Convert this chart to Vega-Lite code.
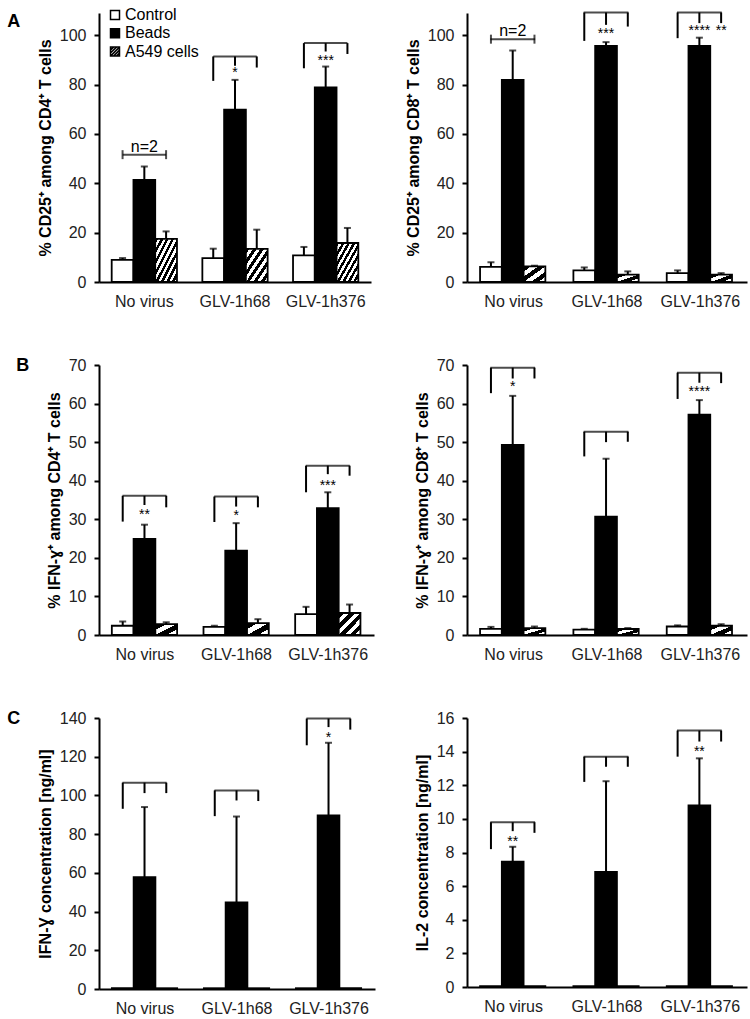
{
  "$schema": "https://vega.github.io/schema/vega-lite/v6.json",
  "padding": {"left": 7, "top": 7, "right": 3, "bottom": 5},
  "background": "white",
  "bounds": "flush",
  "align": "each",
  "columns": 2,
  "spacing": {"row": 83, "column": 92},
  "config": {
    "font": "Liberation Sans",
    "view": {"stroke": null},
    "axis": {"grid": false, "domainColor": "black", "domainWidth": 2, "tickColor": "black", "tickWidth": 2, "tickSize": 5, "labelFont": "Liberation Sans", "labelFontSize": 16, "labelColor": "#222", "labelPadding": 8, "labelOverlap": false, "labelBound": false, "titleFont": "Liberation Sans", "titleFontSize": 16, "titleFontWeight": "bold", "titleColor": "black", "titlePadding": 6},
    "axisX": {"ticks": false, "labelAngle": 0, "labelPadding": 11},
    "text": {"font": "Liberation Sans", "color": "black"},
    "legend": {"orient": "none", "title": null, "symbolSize": 81, "symbolStrokeColor": "black", "symbolStrokeWidth": 1.5, "symbolOpacity": 1, "labelFont": "Liberation Sans", "labelFontSize": 16, "labelColor": "black", "rowPadding": 2.3, "labelOffset": 2, "padding": 0}
  },
  "datasets": {
    "AL_bars": [
      {"cat": "No virus", "grp": "Control", "v": 9.0, "hi": 9.7},
      {"cat": "No virus", "grp": "Beads", "v": 41.4, "hi": 46.8},
      {"cat": "No virus", "grp": "A549 cells", "v": 17.5, "hi": 20.5},
      {"cat": "GLV-1h68", "grp": "Control", "v": 9.7, "hi": 13.5},
      {"cat": "GLV-1h68", "grp": "Beads", "v": 69.8, "hi": 81.9},
      {"cat": "GLV-1h68", "grp": "A549 cells", "v": 13.4, "hi": 21.2},
      {"cat": "GLV-1h376", "grp": "Control", "v": 10.8, "hi": 14.2},
      {"cat": "GLV-1h376", "grp": "Beads", "v": 78.9, "hi": 87.3},
      {"cat": "GLV-1h376", "grp": "A549 cells", "v": 15.8, "hi": 21.9}
    ],
    "AL_legs": [
      {"cat": "GLV-1h68", "leg": "Control", "top": 91.4, "bot": 81.5},
      {"cat": "GLV-1h68", "leg": "Beads", "top": 91.4, "bot": 87.6},
      {"cat": "GLV-1h68", "leg": "A549 cells", "top": 91.4, "bot": 86.9},
      {"cat": "GLV-1h376", "leg": "Control", "top": 96.8, "bot": 86.6},
      {"cat": "GLV-1h376", "leg": "Beads", "top": 96.8, "bot": 93.4},
      {"cat": "GLV-1h376", "leg": "A549 cells", "top": 96.8, "bot": 92.4}
    ],
    "AL_notes": [
      {"cat": "No virus", "pos": "Beads", "y": 54.9, "txt": "n=2"},
      {"cat": "GLV-1h68", "pos": "Beads", "y": 84.8, "txt": "*"},
      {"cat": "GLV-1h376", "pos": "Beads", "y": 89.5, "txt": "***"}
    ],
    "AL_n2": [
      {"cat": "No virus", "leg": "Control", "y": 51.6},
      {"cat": "No virus", "leg": "Beads", "y": 51.6},
      {"cat": "No virus", "leg": "A549 cells", "y": 51.6}
    ],
    "AR_bars": [
      {"cat": "No virus", "grp": "Control", "v": 6.1, "hi": 8.0},
      {"cat": "No virus", "grp": "Beads", "v": 81.9, "hi": 93.8},
      {"cat": "No virus", "grp": "A549 cells", "v": 6.3, "hi": 6.6},
      {"cat": "GLV-1h68", "grp": "Control", "v": 4.7, "hi": 5.9},
      {"cat": "GLV-1h68", "grp": "Beads", "v": 95.7, "hi": 97.2},
      {"cat": "GLV-1h68", "grp": "A549 cells", "v": 3.0, "hi": 4.3},
      {"cat": "GLV-1h376", "grp": "Control", "v": 3.6, "hi": 4.7},
      {"cat": "GLV-1h376", "grp": "Beads", "v": 95.7, "hi": 99.0},
      {"cat": "GLV-1h376", "grp": "A549 cells", "v": 3.0, "hi": 3.6}
    ],
    "AR_legs": [
      {"cat": "GLV-1h68", "leg": "Control", "top": 109.2, "bot": 97.7},
      {"cat": "GLV-1h68", "leg": "Beads", "top": 109.2, "bot": 104.2},
      {"cat": "GLV-1h68", "leg": "A549 cells", "top": 109.2, "bot": 103.5},
      {"cat": "GLV-1h376", "leg": "Control", "top": 109.2, "bot": 98.8},
      {"cat": "GLV-1h376", "leg": "Beads", "top": 109.2, "bot": 104.9},
      {"cat": "GLV-1h376", "leg": "A549 cells", "top": 109.2, "bot": 104.9}
    ],
    "AR_notes": [
      {"cat": "No virus", "pos": "Beads", "y": 101.9, "txt": "n=2"},
      {"cat": "GLV-1h68", "pos": "Beads", "y": 100.6, "txt": "***"},
      {"cat": "GLV-1h376", "pos": "Beads", "y": 101.6, "txt": "****"},
      {"cat": "GLV-1h376", "pos": "A549 cells", "y": 101.6, "txt": "**"}
    ],
    "AR_n2": [
      {"cat": "No virus", "leg": "Control", "y": 98.4},
      {"cat": "No virus", "leg": "Beads", "y": 98.4},
      {"cat": "No virus", "leg": "A549 cells", "y": 98.4}
    ],
    "BL_bars": [
      {"cat": "No virus", "grp": "Control", "v": 2.4, "hi": 3.5},
      {"cat": "No virus", "grp": "Beads", "v": 24.9, "hi": 28.6},
      {"cat": "No virus", "grp": "A549 cells", "v": 2.8, "hi": 3.3},
      {"cat": "GLV-1h68", "grp": "Control", "v": 2.1, "hi": 2.4},
      {"cat": "GLV-1h68", "grp": "Beads", "v": 21.9, "hi": 29.0},
      {"cat": "GLV-1h68", "grp": "A549 cells", "v": 3.1, "hi": 4.1},
      {"cat": "GLV-1h376", "grp": "Control", "v": 5.4, "hi": 7.3},
      {"cat": "GLV-1h376", "grp": "Beads", "v": 32.9, "hi": 37.0},
      {"cat": "GLV-1h376", "grp": "A549 cells", "v": 5.7, "hi": 7.9}
    ],
    "BL_legs": [
      {"cat": "No virus", "leg": "Control", "top": 36.1, "bot": 29.4},
      {"cat": "No virus", "leg": "Beads", "top": 36.1, "bot": 33.7},
      {"cat": "No virus", "leg": "A549 cells", "top": 36.1, "bot": 33.1},
      {"cat": "GLV-1h68", "leg": "Control", "top": 35.9, "bot": 29.3},
      {"cat": "GLV-1h68", "leg": "Beads", "top": 35.9, "bot": 33.3},
      {"cat": "GLV-1h68", "leg": "A549 cells", "top": 35.9, "bot": 33.1},
      {"cat": "GLV-1h376", "leg": "Control", "top": 43.9, "bot": 37.0},
      {"cat": "GLV-1h376", "leg": "Beads", "top": 43.9, "bot": 41.7},
      {"cat": "GLV-1h376", "leg": "A549 cells", "top": 43.9, "bot": 41.3}
    ],
    "BL_notes": [
      {"cat": "No virus", "pos": "Beads", "y": 31.0, "txt": "**"},
      {"cat": "GLV-1h68", "pos": "Beads", "y": 30.8, "txt": "*"},
      {"cat": "GLV-1h376", "pos": "Beads", "y": 38.6, "txt": "***"}
    ],
    "BR_bars": [
      {"cat": "No virus", "grp": "Control", "v": 1.6, "hi": 2.1},
      {"cat": "No virus", "grp": "Beads", "v": 49.3, "hi": 62.0},
      {"cat": "No virus", "grp": "A549 cells", "v": 1.8, "hi": 2.2},
      {"cat": "GLV-1h68", "grp": "Control", "v": 1.4, "hi": 1.6},
      {"cat": "GLV-1h68", "grp": "Beads", "v": 30.7, "hi": 45.7},
      {"cat": "GLV-1h68", "grp": "A549 cells", "v": 1.55, "hi": 1.8},
      {"cat": "GLV-1h376", "grp": "Control", "v": 2.2, "hi": 2.5},
      {"cat": "GLV-1h376", "grp": "Beads", "v": 57.1, "hi": 60.9},
      {"cat": "GLV-1h376", "grp": "A549 cells", "v": 2.4, "hi": 2.8}
    ],
    "BR_legs": [
      {"cat": "No virus", "leg": "Control", "top": 69.3, "bot": 62.7},
      {"cat": "No virus", "leg": "Beads", "top": 69.3, "bot": 66.5},
      {"cat": "No virus", "leg": "A549 cells", "top": 69.3, "bot": 66.5},
      {"cat": "GLV-1h68", "leg": "Control", "top": 52.7, "bot": 46.3},
      {"cat": "GLV-1h68", "leg": "Beads", "top": 52.7, "bot": 50.0},
      {"cat": "GLV-1h68", "leg": "A549 cells", "top": 52.7, "bot": 50.1},
      {"cat": "GLV-1h376", "leg": "Control", "top": 68.0, "bot": 61.2},
      {"cat": "GLV-1h376", "leg": "Beads", "top": 68.0, "bot": 65.4},
      {"cat": "GLV-1h376", "leg": "A549 cells", "top": 68.0, "bot": 65.3}
    ],
    "BR_notes": [
      {"cat": "No virus", "pos": "Beads", "y": 64.2, "txt": "*"},
      {"cat": "GLV-1h376", "pos": "Beads", "y": 62.9, "txt": "****"}
    ],
    "CL_bars": [
      {"cat": "No virus", "grp": "Control", "v": 0.4, "hi": 0.4},
      {"cat": "No virus", "grp": "Beads", "v": 57.8, "hi": 94.0},
      {"cat": "No virus", "grp": "A549 cells", "v": 0.4, "hi": 0.4},
      {"cat": "GLV-1h68", "grp": "Control", "v": 0.4, "hi": 0.4},
      {"cat": "GLV-1h68", "grp": "Beads", "v": 44.8, "hi": 89.1},
      {"cat": "GLV-1h68", "grp": "A549 cells", "v": 0.4, "hi": 0.4},
      {"cat": "GLV-1h376", "grp": "Control", "v": 0.4, "hi": 0.4},
      {"cat": "GLV-1h376", "grp": "Beads", "v": 89.7, "hi": 127.2},
      {"cat": "GLV-1h376", "grp": "A549 cells", "v": 0.4, "hi": 0.4}
    ],
    "CL_legs": [
      {"cat": "No virus", "leg": "Control", "top": 106.6, "bot": 93.1},
      {"cat": "No virus", "leg": "Beads", "top": 106.6, "bot": 101.2},
      {"cat": "No virus", "leg": "A549 cells", "top": 106.6, "bot": 101.2},
      {"cat": "GLV-1h68", "leg": "Control", "top": 102.6, "bot": 89.3},
      {"cat": "GLV-1h68", "leg": "Beads", "top": 102.6, "bot": 97.4},
      {"cat": "GLV-1h68", "leg": "A549 cells", "top": 102.6, "bot": 97.1},
      {"cat": "GLV-1h376", "leg": "Control", "top": 139.7, "bot": 125.9},
      {"cat": "GLV-1h376", "leg": "Beads", "top": 139.7, "bot": 135.3},
      {"cat": "GLV-1h376", "leg": "A549 cells", "top": 139.7, "bot": 134.0}
    ],
    "CL_notes": [
      {"cat": "GLV-1h376", "pos": "Beads", "y": 129.5, "txt": "*"}
    ],
    "CR_bars": [
      {"cat": "No virus", "grp": "Control", "v": 0.05, "hi": 0.05},
      {"cat": "No virus", "grp": "Beads", "v": 7.45, "hi": 8.34},
      {"cat": "No virus", "grp": "A549 cells", "v": 0.05, "hi": 0.05},
      {"cat": "GLV-1h68", "grp": "Control", "v": 0.05, "hi": 0.05},
      {"cat": "GLV-1h68", "grp": "Beads", "v": 6.85, "hi": 12.24},
      {"cat": "GLV-1h68", "grp": "A549 cells", "v": 0.05, "hi": 0.05},
      {"cat": "GLV-1h376", "grp": "Control", "v": 0.05, "hi": 0.05},
      {"cat": "GLV-1h376", "grp": "Beads", "v": 10.8, "hi": 13.6},
      {"cat": "GLV-1h376", "grp": "A549 cells", "v": 0.05, "hi": 0.05}
    ],
    "CR_legs": [
      {"cat": "No virus", "leg": "Control", "top": 9.8, "bot": 8.2},
      {"cat": "No virus", "leg": "Beads", "top": 9.8, "bot": 9.27},
      {"cat": "No virus", "leg": "A549 cells", "top": 9.8, "bot": 9.17},
      {"cat": "GLV-1h68", "leg": "Control", "top": 13.7, "bot": 12.2},
      {"cat": "GLV-1h68", "leg": "Beads", "top": 13.7, "bot": 13.1},
      {"cat": "GLV-1h68", "leg": "A549 cells", "top": 13.7, "bot": 13.1},
      {"cat": "GLV-1h376", "leg": "Control", "top": 15.25, "bot": 13.7},
      {"cat": "GLV-1h376", "leg": "Beads", "top": 15.25, "bot": 14.6},
      {"cat": "GLV-1h376", "leg": "A549 cells", "top": 15.25, "bot": 14.6}
    ],
    "CR_notes": [
      {"cat": "No virus", "pos": "Beads", "y": 8.6, "txt": "**"},
      {"cat": "GLV-1h376", "pos": "Beads", "y": 14.0, "txt": "**"}
    ]
  },
  "concat": [
    {
      "width": 272, "height": 269,
      "title": {"text": "A", "orient": "left", "anchor": "end", "angle": 0, "align": "right", "baseline": "top", "fontSize": 18, "fontWeight": "bold", "font": "Liberation Sans", "color": "black", "offset": 4},
      "layer": [
        {"data": {"name": "AL_bars"}, "mark": {"type": "bar", "stroke": "black", "strokeWidth": 1.8},
         "encoding": {
           "x": {"field": "cat", "type": "nominal", "scale": {"domain": ["No virus", "GLV-1h68", "GLV-1h376"], "paddingInner": 0.28, "paddingOuter": 0.14}, "axis": {"title": null}},
           "xOffset": {"field": "grp", "type": "nominal", "scale": {"domain": ["Control", "Beads", "A549 cells"], "paddingInner": 0, "paddingOuter": 0}},
           "y": {"field": "v", "type": "quantitative", "scale": {"domain": [0, 109], "nice": false}, "axis": {"title": "% CD25⁺ among CD4⁺ T cells", "values": [0, 20, 40, 60, 80, 100], "tickCount": 30, "format": "d"}},
           "fill": {
             "condition": [
               {"test": "datum.grp === 'Control'", "value": "white"},
               {"test": "datum.grp === 'Beads'", "value": "black"},
               {"test": "datum.v > 15", "value": {"gradient": "linear", "x1": 0, "y1": 0, "x2": 1, "y2": 1, "stops": [{"offset": 0, "color": "black"}, {"offset": 0.0625, "color": "black"}, {"offset": 0.0625, "color": "white"}, {"offset": 0.125, "color": "white"}, {"offset": 0.125, "color": "black"}, {"offset": 0.1875, "color": "black"}, {"offset": 0.1875, "color": "white"}, {"offset": 0.25, "color": "white"}, {"offset": 0.25, "color": "black"}, {"offset": 0.3125, "color": "black"}, {"offset": 0.3125, "color": "white"}, {"offset": 0.375, "color": "white"}, {"offset": 0.375, "color": "black"}, {"offset": 0.4375, "color": "black"}, {"offset": 0.4375, "color": "white"}, {"offset": 0.5, "color": "white"}, {"offset": 0.5, "color": "black"}, {"offset": 0.5625, "color": "black"}, {"offset": 0.5625, "color": "white"}, {"offset": 0.625, "color": "white"}, {"offset": 0.625, "color": "black"}, {"offset": 0.6875, "color": "black"}, {"offset": 0.6875, "color": "white"}, {"offset": 0.75, "color": "white"}, {"offset": 0.75, "color": "black"}, {"offset": 0.8125, "color": "black"}, {"offset": 0.8125, "color": "white"}, {"offset": 0.875, "color": "white"}, {"offset": 0.875, "color": "black"}, {"offset": 0.9375, "color": "black"}, {"offset": 0.9375, "color": "white"}, {"offset": 1, "color": "white"}]}}
             ],
             "value": {"gradient": "linear", "x1": 0, "y1": 0, "x2": 1, "y2": 1, "stops": [{"offset": 0, "color": "black"}, {"offset": 0.0833, "color": "black"}, {"offset": 0.0833, "color": "white"}, {"offset": 0.1667, "color": "white"}, {"offset": 0.1667, "color": "black"}, {"offset": 0.25, "color": "black"}, {"offset": 0.25, "color": "white"}, {"offset": 0.3333, "color": "white"}, {"offset": 0.3333, "color": "black"}, {"offset": 0.4167, "color": "black"}, {"offset": 0.4167, "color": "white"}, {"offset": 0.5, "color": "white"}, {"offset": 0.5, "color": "black"}, {"offset": 0.5833, "color": "black"}, {"offset": 0.5833, "color": "white"}, {"offset": 0.6667, "color": "white"}, {"offset": 0.6667, "color": "black"}, {"offset": 0.75, "color": "black"}, {"offset": 0.75, "color": "white"}, {"offset": 0.8333, "color": "white"}, {"offset": 0.8333, "color": "black"}, {"offset": 0.9167, "color": "black"}, {"offset": 0.9167, "color": "white"}, {"offset": 1, "color": "white"}]}
           }
         }},
        {"data": {"name": "AL_bars"}, "mark": {"type": "point", "filled": true, "opacity": 0},
         "encoding": {"x": {"field": "cat", "type": "nominal"}, "y": {"field": "v", "type": "quantitative"},
           "fill": {"field": "grp", "type": "nominal", "scale": {"domain": ["Control", "Beads", "A549 cells"], "range": ["white", "black", "white"]}, "legend": {"legendX": 8, "legendY": -6}},
           "stroke": {"field": "grp", "type": "nominal", "scale": {"domain": ["Control", "Beads", "A549 cells"], "range": ["black", "black", "black"]}, "legend": {"legendX": 8, "legendY": -6}},
           "shape": {"field": "grp", "type": "nominal", "scale": {"domain": ["Control", "Beads", "A549 cells"], "range": ["square", "square", "M-1,-1H1V1H-1Z M-1,-0.33L-0.33,-1 M-1,0.33L0.33,-1 M-1,1L1,-1 M-0.33,1L1,-0.33 M0.33,1L1,0.33"]}, "legend": {"legendX": 8, "legendY": -6}}}},
        {"data": {"name": "AL_bars"}, "transform": [{"filter": "datum.hi > datum.v"}], "mark": {"type": "rule", "strokeWidth": 2, "color": "black"},
         "encoding": {"x": {"field": "cat", "type": "nominal"}, "xOffset": {"field": "grp", "type": "nominal"}, "y": {"field": "v", "type": "quantitative"}, "y2": {"field": "hi"}}},
        {"data": {"name": "AL_bars"}, "transform": [{"filter": "datum.hi > datum.v"}], "mark": {"type": "tick", "size": 7, "thickness": 2, "color": "black"},
         "encoding": {"x": {"field": "cat", "type": "nominal"}, "xOffset": {"field": "grp", "type": "nominal"}, "y": {"field": "hi", "type": "quantitative"}}},
        {"data": {"name": "AL_legs"}, "mark": {"type": "rule", "strokeWidth": 2, "color": "black"},
         "encoding": {"x": {"field": "cat", "type": "nominal"}, "xOffset": {"field": "leg", "type": "nominal"}, "y": {"field": "top", "type": "quantitative"}, "y2": {"field": "bot"}}},
        {"data": {"name": "AL_legs"}, "transform": [{"filter": "datum.leg === 'Beads'"}], "mark": {"type": "tick", "size": 43.5, "thickness": 2, "color": "black"},
         "encoding": {"x": {"field": "cat", "type": "nominal"}, "xOffset": {"field": "leg", "type": "nominal"}, "y": {"field": "top", "type": "quantitative"}}},
        {"data": {"name": "AL_n2"}, "transform": [{"filter": "datum.leg === 'Beads'"}], "mark": {"type": "tick", "size": 43.5, "thickness": 2, "color": "black"},
         "encoding": {"x": {"field": "cat", "type": "nominal"}, "xOffset": {"field": "leg", "type": "nominal"}, "y": {"field": "y", "type": "quantitative"}}},
        {"data": {"name": "AL_n2"}, "transform": [{"filter": "datum.leg !== 'Beads'"}], "mark": {"type": "tick", "orient": "vertical", "size": 9, "thickness": 2, "color": "black"},
         "encoding": {"x": {"field": "cat", "type": "nominal"}, "xOffset": {"field": "leg", "type": "nominal"}, "y": {"field": "y", "type": "quantitative"}}},
        {"data": {"name": "AL_notes"}, "mark": {"type": "text", "baseline": "middle", "font": "Liberation Sans"},
         "encoding": {"x": {"field": "cat", "type": "nominal"}, "xOffset": {"field": "pos", "type": "nominal"}, "y": {"field": "y", "type": "quantitative"}, "text": {"field": "txt"}, "size": {"condition": {"test": "datum.txt === 'n=2'", "value": 16}, "value": 14}}}
      ]
    },
    {
      "width": 280, "height": 269,
      "layer": [
        {"data": {"name": "AR_bars"}, "mark": {"type": "bar", "stroke": "black", "strokeWidth": 1.8},
         "encoding": {
           "x": {"field": "cat", "type": "nominal", "scale": {"domain": ["No virus", "GLV-1h68", "GLV-1h376"], "paddingInner": 0.28, "paddingOuter": 0.14}, "axis": {"title": null}},
           "xOffset": {"field": "grp", "type": "nominal", "scale": {"domain": ["Control", "Beads", "A549 cells"], "paddingInner": 0, "paddingOuter": 0}},
           "y": {"field": "v", "type": "quantitative", "scale": {"domain": [0, 109], "nice": false}, "axis": {"title": "% CD25⁺ among CD8⁺ T cells", "values": [0, 20, 40, 60, 80, 100], "tickCount": 30, "format": "d"}},
           "fill": {
             "condition": [
               {"test": "datum.grp === 'Control'", "value": "white"},
               {"test": "datum.grp === 'Beads'", "value": "black"},
               {"test": "datum.v > 5", "value": {"gradient": "linear", "x1": 0, "y1": 0, "x2": 1, "y2": 1, "stops": [{"offset": 0, "color": "black"}, {"offset": 0.1667, "color": "black"}, {"offset": 0.1667, "color": "white"}, {"offset": 0.3333, "color": "white"}, {"offset": 0.3333, "color": "black"}, {"offset": 0.5, "color": "black"}, {"offset": 0.5, "color": "white"}, {"offset": 0.6667, "color": "white"}, {"offset": 0.6667, "color": "black"}, {"offset": 0.8333, "color": "black"}, {"offset": 0.8333, "color": "white"}, {"offset": 1, "color": "white"}]}}
             ],
             "value": {"gradient": "linear", "x1": 0, "y1": 0, "x2": 1, "y2": 1, "stops": [{"offset": 0, "color": "black"}, {"offset": 0.25, "color": "black"}, {"offset": 0.25, "color": "white"}, {"offset": 0.5, "color": "white"}, {"offset": 0.5, "color": "black"}, {"offset": 0.75, "color": "black"}, {"offset": 0.75, "color": "white"}, {"offset": 1, "color": "white"}]}
           }
         }},
        {"data": {"name": "AR_bars"}, "transform": [{"filter": "datum.hi > datum.v"}], "mark": {"type": "rule", "strokeWidth": 2, "color": "black"},
         "encoding": {"x": {"field": "cat", "type": "nominal"}, "xOffset": {"field": "grp", "type": "nominal"}, "y": {"field": "v", "type": "quantitative"}, "y2": {"field": "hi"}}},
        {"data": {"name": "AR_bars"}, "transform": [{"filter": "datum.hi > datum.v"}], "mark": {"type": "tick", "size": 7, "thickness": 2, "color": "black"},
         "encoding": {"x": {"field": "cat", "type": "nominal"}, "xOffset": {"field": "grp", "type": "nominal"}, "y": {"field": "hi", "type": "quantitative"}}},
        {"data": {"name": "AR_legs"}, "mark": {"type": "rule", "strokeWidth": 2, "color": "black"},
         "encoding": {"x": {"field": "cat", "type": "nominal"}, "xOffset": {"field": "leg", "type": "nominal"}, "y": {"field": "top", "type": "quantitative"}, "y2": {"field": "bot"}}},
        {"data": {"name": "AR_legs"}, "transform": [{"filter": "datum.leg === 'Beads'"}], "mark": {"type": "tick", "size": 44.8, "thickness": 2, "color": "black"},
         "encoding": {"x": {"field": "cat", "type": "nominal"}, "xOffset": {"field": "leg", "type": "nominal"}, "y": {"field": "top", "type": "quantitative"}}},
        {"data": {"name": "AR_n2"}, "transform": [{"filter": "datum.leg === 'Beads'"}], "mark": {"type": "tick", "size": 44.8, "thickness": 2, "color": "black"},
         "encoding": {"x": {"field": "cat", "type": "nominal"}, "xOffset": {"field": "leg", "type": "nominal"}, "y": {"field": "y", "type": "quantitative"}}},
        {"data": {"name": "AR_n2"}, "transform": [{"filter": "datum.leg !== 'Beads'"}], "mark": {"type": "tick", "orient": "vertical", "size": 9, "thickness": 2, "color": "black"},
         "encoding": {"x": {"field": "cat", "type": "nominal"}, "xOffset": {"field": "leg", "type": "nominal"}, "y": {"field": "y", "type": "quantitative"}}},
        {"data": {"name": "AR_notes"}, "mark": {"type": "text", "baseline": "middle", "font": "Liberation Sans"},
         "encoding": {"x": {"field": "cat", "type": "nominal"}, "xOffset": {"field": "pos", "type": "nominal"}, "y": {"field": "y", "type": "quantitative"}, "text": {"field": "txt"}, "size": {"condition": {"test": "datum.txt === 'n=2'", "value": 16}, "value": 14}}}
      ]
    },
    {
      "width": 275, "height": 270,
      "title": {"text": "B", "orient": "left", "anchor": "end", "angle": 0, "align": "right", "baseline": "top", "fontSize": 18, "fontWeight": "bold", "font": "Liberation Sans", "color": "black", "offset": 4},
      "layer": [
        {"data": {"name": "BL_bars"}, "mark": {"type": "bar", "stroke": "black", "strokeWidth": 1.8},
         "encoding": {
           "x": {"field": "cat", "type": "nominal", "scale": {"domain": ["No virus", "GLV-1h68", "GLV-1h376"], "paddingInner": 0.28, "paddingOuter": 0.14}, "axis": {"title": null}},
           "xOffset": {"field": "grp", "type": "nominal", "scale": {"domain": ["Control", "Beads", "A549 cells"], "paddingInner": 0, "paddingOuter": 0}},
           "y": {"field": "v", "type": "quantitative", "scale": {"domain": [0, 70], "nice": false}, "axis": {"title": "% IFN-ɣ⁺ among CD4⁺ T cells", "values": [0, 10, 20, 30, 40, 50, 60, 70], "tickCount": 30, "format": "d"}},
           "fill": {
             "condition": [
               {"test": "datum.grp === 'Control'", "value": "white"},
               {"test": "datum.grp === 'Beads'", "value": "black"},
               {"test": "datum.v > 5", "value": {"gradient": "linear", "x1": 0, "y1": 0, "x2": 1, "y2": 1, "stops": [{"offset": 0, "color": "black"}, {"offset": 0.125, "color": "black"}, {"offset": 0.125, "color": "white"}, {"offset": 0.25, "color": "white"}, {"offset": 0.25, "color": "black"}, {"offset": 0.375, "color": "black"}, {"offset": 0.375, "color": "white"}, {"offset": 0.5, "color": "white"}, {"offset": 0.5, "color": "black"}, {"offset": 0.625, "color": "black"}, {"offset": 0.625, "color": "white"}, {"offset": 0.75, "color": "white"}, {"offset": 0.75, "color": "black"}, {"offset": 0.875, "color": "black"}, {"offset": 0.875, "color": "white"}, {"offset": 1, "color": "white"}]}}
             ],
             "value": {"gradient": "linear", "x1": 0, "y1": 0, "x2": 1, "y2": 1, "stops": [{"offset": 0, "color": "black"}, {"offset": 0.25, "color": "black"}, {"offset": 0.25, "color": "white"}, {"offset": 0.5, "color": "white"}, {"offset": 0.5, "color": "black"}, {"offset": 0.75, "color": "black"}, {"offset": 0.75, "color": "white"}, {"offset": 1, "color": "white"}]}
           }
         }},
        {"data": {"name": "BL_bars"}, "mark": {"type": "point", "filled": true, "opacity": 0},
         "encoding": {"x": {"field": "cat", "type": "nominal"}, "y": {"field": "v", "type": "quantitative"},
           "fill": {"field": "grp", "type": "nominal", "scale": {"domain": ["Control", "Beads", "A549 cells"], "range": ["white", "black", "white"]}, "legend": {"legendX": 8, "legendY": -1}},
           "stroke": {"field": "grp", "type": "nominal", "scale": {"domain": ["Control", "Beads", "A549 cells"], "range": ["black", "black", "black"]}, "legend": {"legendX": 8, "legendY": -1}},
           "shape": {"field": "grp", "type": "nominal", "scale": {"domain": ["Control", "Beads", "A549 cells"], "range": ["square", "square", "M-1,-1H1V1H-1Z M-1,-0.33L-0.33,-1 M-1,0.33L0.33,-1 M-1,1L1,-1 M-0.33,1L1,-0.33 M0.33,1L1,0.33"]}, "legend": {"legendX": 8, "legendY": -1}}}},
        {"data": {"name": "BL_bars"}, "transform": [{"filter": "datum.hi > datum.v"}], "mark": {"type": "rule", "strokeWidth": 2, "color": "black"},
         "encoding": {"x": {"field": "cat", "type": "nominal"}, "xOffset": {"field": "grp", "type": "nominal"}, "y": {"field": "v", "type": "quantitative"}, "y2": {"field": "hi"}}},
        {"data": {"name": "BL_bars"}, "transform": [{"filter": "datum.hi > datum.v"}], "mark": {"type": "tick", "size": 7, "thickness": 2, "color": "black"},
         "encoding": {"x": {"field": "cat", "type": "nominal"}, "xOffset": {"field": "grp", "type": "nominal"}, "y": {"field": "hi", "type": "quantitative"}}},
        {"data": {"name": "BL_legs"}, "mark": {"type": "rule", "strokeWidth": 2, "color": "black"},
         "encoding": {"x": {"field": "cat", "type": "nominal"}, "xOffset": {"field": "leg", "type": "nominal"}, "y": {"field": "top", "type": "quantitative"}, "y2": {"field": "bot"}}},
        {"data": {"name": "BL_legs"}, "transform": [{"filter": "datum.leg === 'Beads'"}], "mark": {"type": "tick", "size": 44, "thickness": 2, "color": "black"},
         "encoding": {"x": {"field": "cat", "type": "nominal"}, "xOffset": {"field": "leg", "type": "nominal"}, "y": {"field": "top", "type": "quantitative"}}},
        {"data": {"name": "BL_notes"}, "mark": {"type": "text", "baseline": "middle", "font": "Liberation Sans", "fontSize": 14},
         "encoding": {"x": {"field": "cat", "type": "nominal"}, "xOffset": {"field": "pos", "type": "nominal"}, "y": {"field": "y", "type": "quantitative"}, "text": {"field": "txt"}}}
      ]
    },
    {
      "width": 280, "height": 270,
      "layer": [
        {"data": {"name": "BR_bars"}, "mark": {"type": "bar", "stroke": "black", "strokeWidth": 1.8},
         "encoding": {
           "x": {"field": "cat", "type": "nominal", "scale": {"domain": ["No virus", "GLV-1h68", "GLV-1h376"], "paddingInner": 0.28, "paddingOuter": 0.14}, "axis": {"title": null}},
           "xOffset": {"field": "grp", "type": "nominal", "scale": {"domain": ["Control", "Beads", "A549 cells"], "paddingInner": 0, "paddingOuter": 0}},
           "y": {"field": "v", "type": "quantitative", "scale": {"domain": [0, 70], "nice": false}, "axis": {"title": "% IFN-ɣ⁺ among CD8⁺ T cells", "values": [0, 10, 20, 30, 40, 50, 60, 70], "tickCount": 30, "format": "d"}},
           "fill": {
             "condition": [
               {"test": "datum.grp === 'Control'", "value": "white"},
               {"test": "datum.grp === 'Beads'", "value": "black"}
             ],
             "value": {"gradient": "linear", "x1": 0, "y1": 0, "x2": 1, "y2": 1, "stops": [{"offset": 0, "color": "black"}, {"offset": 0.25, "color": "black"}, {"offset": 0.25, "color": "white"}, {"offset": 0.5, "color": "white"}, {"offset": 0.5, "color": "black"}, {"offset": 0.75, "color": "black"}, {"offset": 0.75, "color": "white"}, {"offset": 1, "color": "white"}]}
           }
         }},
        {"data": {"name": "BR_bars"}, "transform": [{"filter": "datum.hi > datum.v"}], "mark": {"type": "rule", "strokeWidth": 2, "color": "black"},
         "encoding": {"x": {"field": "cat", "type": "nominal"}, "xOffset": {"field": "grp", "type": "nominal"}, "y": {"field": "v", "type": "quantitative"}, "y2": {"field": "hi"}}},
        {"data": {"name": "BR_bars"}, "transform": [{"filter": "datum.hi > datum.v"}], "mark": {"type": "tick", "size": 7, "thickness": 2, "color": "black"},
         "encoding": {"x": {"field": "cat", "type": "nominal"}, "xOffset": {"field": "grp", "type": "nominal"}, "y": {"field": "hi", "type": "quantitative"}}},
        {"data": {"name": "BR_legs"}, "mark": {"type": "rule", "strokeWidth": 2, "color": "black"},
         "encoding": {"x": {"field": "cat", "type": "nominal"}, "xOffset": {"field": "leg", "type": "nominal"}, "y": {"field": "top", "type": "quantitative"}, "y2": {"field": "bot"}}},
        {"data": {"name": "BR_legs"}, "transform": [{"filter": "datum.leg === 'Beads'"}], "mark": {"type": "tick", "size": 44.8, "thickness": 2, "color": "black"},
         "encoding": {"x": {"field": "cat", "type": "nominal"}, "xOffset": {"field": "leg", "type": "nominal"}, "y": {"field": "top", "type": "quantitative"}}},
        {"data": {"name": "BR_notes"}, "mark": {"type": "text", "baseline": "middle", "font": "Liberation Sans", "fontSize": 14},
         "encoding": {"x": {"field": "cat", "type": "nominal"}, "xOffset": {"field": "pos", "type": "nominal"}, "y": {"field": "y", "type": "quantitative"}, "text": {"field": "txt"}}}
      ]
    },
    {
      "width": 276, "height": 271,
      "title": {"text": "C", "orient": "left", "anchor": "end", "angle": 0, "align": "right", "baseline": "top", "fontSize": 18, "fontWeight": "bold", "font": "Liberation Sans", "color": "black", "offset": 4},
      "layer": [
        {"data": {"name": "CL_bars"}, "mark": {"type": "bar", "stroke": "black", "strokeWidth": 1.8},
         "encoding": {
           "x": {"field": "cat", "type": "nominal", "scale": {"domain": ["No virus", "GLV-1h68", "GLV-1h376"], "paddingInner": 0.28, "paddingOuter": 0.14}, "axis": {"title": null}},
           "xOffset": {"field": "grp", "type": "nominal", "scale": {"domain": ["Control", "Beads", "A549 cells"], "paddingInner": 0, "paddingOuter": 0}},
           "y": {"field": "v", "type": "quantitative", "scale": {"domain": [0, 140], "nice": false}, "axis": {"title": "IFN-Ɣ concentration [ng/ml]", "values": [0, 20, 40, 60, 80, 100, 120, 140], "tickCount": 30, "format": "d"}},
           "fill": {
             "condition": [
               {"test": "datum.grp === 'Control'", "value": "white"},
               {"test": "datum.grp === 'Beads'", "value": "black"}
             ],
             "value": "white"
           }
         }},
        {"data": {"name": "CL_bars"}, "mark": {"type": "point", "filled": true, "opacity": 0},
         "encoding": {"x": {"field": "cat", "type": "nominal"}, "y": {"field": "v", "type": "quantitative"},
           "fill": {"field": "grp", "type": "nominal", "scale": {"domain": ["Control", "Beads", "A549 cells"], "range": ["white", "black", "white"]}, "legend": {"legendX": 4, "legendY": -7.5}},
           "stroke": {"field": "grp", "type": "nominal", "scale": {"domain": ["Control", "Beads", "A549 cells"], "range": ["black", "black", "black"]}, "legend": {"legendX": 4, "legendY": -7.5}},
           "shape": {"field": "grp", "type": "nominal", "scale": {"domain": ["Control", "Beads", "A549 cells"], "range": ["square", "square", "M-1,-1H1V1H-1Z M-1,-0.33L-0.33,-1 M-1,0.33L0.33,-1 M-1,1L1,-1 M-0.33,1L1,-0.33 M0.33,1L1,0.33"]}, "legend": {"legendX": 4, "legendY": -7.5}}}},
        {"data": {"name": "CL_bars"}, "transform": [{"filter": "datum.hi > datum.v"}], "mark": {"type": "rule", "strokeWidth": 2, "color": "black"},
         "encoding": {"x": {"field": "cat", "type": "nominal"}, "xOffset": {"field": "grp", "type": "nominal"}, "y": {"field": "v", "type": "quantitative"}, "y2": {"field": "hi"}}},
        {"data": {"name": "CL_bars"}, "transform": [{"filter": "datum.hi > datum.v"}], "mark": {"type": "tick", "size": 7, "thickness": 2, "color": "black"},
         "encoding": {"x": {"field": "cat", "type": "nominal"}, "xOffset": {"field": "grp", "type": "nominal"}, "y": {"field": "hi", "type": "quantitative"}}},
        {"data": {"name": "CL_legs"}, "mark": {"type": "rule", "strokeWidth": 2, "color": "black"},
         "encoding": {"x": {"field": "cat", "type": "nominal"}, "xOffset": {"field": "leg", "type": "nominal"}, "y": {"field": "top", "type": "quantitative"}, "y2": {"field": "bot"}}},
        {"data": {"name": "CL_legs"}, "transform": [{"filter": "datum.leg === 'Beads'"}], "mark": {"type": "tick", "size": 44.2, "thickness": 2, "color": "black"},
         "encoding": {"x": {"field": "cat", "type": "nominal"}, "xOffset": {"field": "leg", "type": "nominal"}, "y": {"field": "top", "type": "quantitative"}}},
        {"data": {"name": "CL_notes"}, "mark": {"type": "text", "baseline": "middle", "font": "Liberation Sans", "fontSize": 14},
         "encoding": {"x": {"field": "cat", "type": "nominal"}, "xOffset": {"field": "pos", "type": "nominal"}, "y": {"field": "y", "type": "quantitative"}, "text": {"field": "txt"}}}
      ]
    },
    {
      "width": 280, "height": 269,
      "layer": [
        {"data": {"name": "CR_bars"}, "mark": {"type": "bar", "stroke": "black", "strokeWidth": 1.8},
         "encoding": {
           "x": {"field": "cat", "type": "nominal", "scale": {"domain": ["No virus", "GLV-1h68", "GLV-1h376"], "paddingInner": 0.28, "paddingOuter": 0.14}, "axis": {"title": null}},
           "xOffset": {"field": "grp", "type": "nominal", "scale": {"domain": ["Control", "Beads", "A549 cells"], "paddingInner": 0, "paddingOuter": 0}},
           "y": {"field": "v", "type": "quantitative", "scale": {"domain": [0, 16], "nice": false}, "axis": {"title": "IL-2 concentration [ng/ml]", "values": [0, 2, 4, 6, 8, 10, 12, 14, 16], "tickCount": 30, "format": "d"}},
           "fill": {
             "condition": [
               {"test": "datum.grp === 'Control'", "value": "white"},
               {"test": "datum.grp === 'Beads'", "value": "black"}
             ],
             "value": "white"
           }
         }},
        {"data": {"name": "CR_bars"}, "transform": [{"filter": "datum.hi > datum.v"}], "mark": {"type": "rule", "strokeWidth": 2, "color": "black"},
         "encoding": {"x": {"field": "cat", "type": "nominal"}, "xOffset": {"field": "grp", "type": "nominal"}, "y": {"field": "v", "type": "quantitative"}, "y2": {"field": "hi"}}},
        {"data": {"name": "CR_bars"}, "transform": [{"filter": "datum.hi > datum.v"}], "mark": {"type": "tick", "size": 7, "thickness": 2, "color": "black"},
         "encoding": {"x": {"field": "cat", "type": "nominal"}, "xOffset": {"field": "grp", "type": "nominal"}, "y": {"field": "hi", "type": "quantitative"}}},
        {"data": {"name": "CR_legs"}, "mark": {"type": "rule", "strokeWidth": 2, "color": "black"},
         "encoding": {"x": {"field": "cat", "type": "nominal"}, "xOffset": {"field": "leg", "type": "nominal"}, "y": {"field": "top", "type": "quantitative"}, "y2": {"field": "bot"}}},
        {"data": {"name": "CR_legs"}, "transform": [{"filter": "datum.leg === 'Beads'"}], "mark": {"type": "tick", "size": 44.8, "thickness": 2, "color": "black"},
         "encoding": {"x": {"field": "cat", "type": "nominal"}, "xOffset": {"field": "leg", "type": "nominal"}, "y": {"field": "top", "type": "quantitative"}}},
        {"data": {"name": "CR_notes"}, "mark": {"type": "text", "baseline": "middle", "font": "Liberation Sans", "fontSize": 14},
         "encoding": {"x": {"field": "cat", "type": "nominal"}, "xOffset": {"field": "pos", "type": "nominal"}, "y": {"field": "y", "type": "quantitative"}, "text": {"field": "txt"}}}
      ]
    }
  ]
}
